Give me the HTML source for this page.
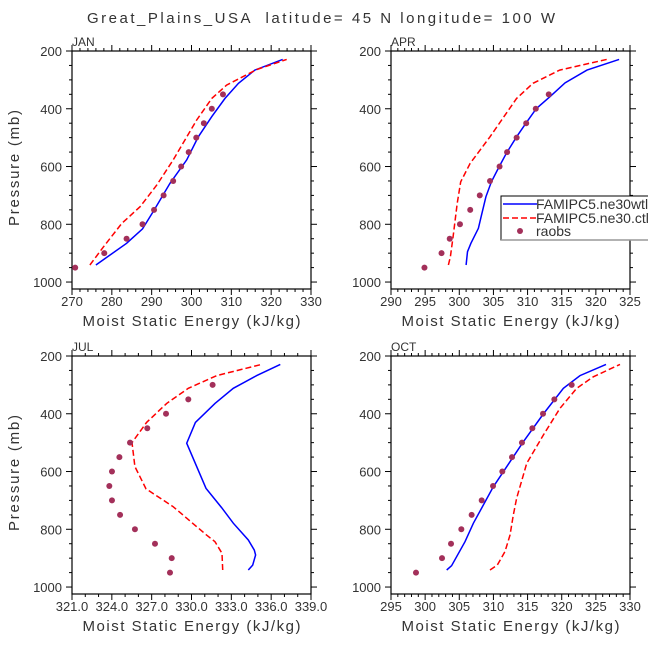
<!DOCTYPE html>
<html><head><meta charset="utf-8">
<style>
html,body{margin:0;padding:0;background:#fff;}
svg{display:block;font-family:"Liberation Sans",sans-serif;}
text{fill:#333;}
</style></head>
<body>
<svg id="chart" width="648" height="649" viewBox="0 0 648 649" xmlns="http://www.w3.org/2000/svg">
<text x="87" y="23" font-size="15" textLength="468" lengthAdjust="spacing" xml:space="preserve" style="white-space:pre">Great_Plains_USA  latitude= 45 N longitude= 100 W</text>
</svg>
<script>
// ---- data ----
const rawPressures = [950,900,850,800,750,700,650,600,550,500,450,400,350,300];
const janRaobs = [270.8,278.1,283.7,287.7,290.6,293.0,295.4,297.4,299.3,301.2,303.1,305.1,307.9];
const janWtlP = [941,866,816,751,658,577,497,427,364,312,266,229];
const janWtl = [276.0,283.7,287.7,290.6,294.6,298.8,301.7,305.1,308.4,311.8,315.9,322.9];
const janCtlP = [941,878,797,739,664,577,439,364,318,264,229];
const janCtl = [274.5,277.9,282.5,287.1,291.3,295.4,301.3,305.1,308.8,316.4,323.9];

const aprRaobs = [294.9,297.4,298.6,300.1,301.6,303.0,304.5,305.9,307.0,308.4,309.8,311.2,313.1];
const aprWtlP = [941,895,866,814,774,705,653,607,554,497,445,399,358,310,266,229];
const aprWtl = [301.0,301.2,301.7,302.8,303.2,303.9,304.7,305.7,306.9,308.4,309.9,311.3,313.3,315.5,318.7,323.4];
const aprCtlP = [941,912,843,728,653,589,497,364,312,266,229];
const aprCtl = [298.4,298.7,299.1,299.7,300.2,301.6,304.5,308.4,310.8,314.7,321.6];

const julRaobs = [328.38,328.51,327.25,325.74,324.62,324.01,323.81,324.01,324.57,325.37,326.67,328.08,329.76,331.59];
const julWtlP = [941,924,889,872,837,779,725,658,502,430,364,312,268,229];
const julWtl = [334.28,334.61,334.83,334.73,334.28,333.15,332.27,331.09,329.64,330.29,331.77,333.15,334.91,336.69];
const julCtlP = [941,883,843,820,722,660,583,500,430,364,312,268,229];
const julCtl = [332.35,332.30,331.77,331.14,328.63,326.57,325.74,325.52,326.62,328.13,329.76,331.90,335.28];

const octRaobs = [298.66,302.47,303.79,305.30,306.81,308.28,309.94,311.30,312.72,314.18,315.70,317.26,318.92,321.46];
const octWtlP = [941,926,843,779,653,497,401,312,268,229];
const octWtl = [303.15,303.88,305.84,307.06,309.98,314.38,317.31,320.24,322.68,326.48];
const octCtlP = [941,924,877,820,751,693,572,474,381,312,272,229];
const octCtl = [309.50,310.57,311.69,312.43,312.91,313.40,314.87,317.31,319.75,322.19,324.63,328.53];

const janTicks = [270,280,290,300,310,320,330];
const aprTicks = [290,295,300,305,310,315,320,325];
const julTicks = [321,324,327,330,333,336,339];
const octTicks = [295,300,305,310,315,320,325,330];
const pTicks = [200,400,600,800,1000];

const NS = "http://www.w3.org/2000/svg";
const svg = document.getElementById('chart');
function mk(tag, attrs, parent){
  const e = document.createElementNS(NS, tag);
  for (const k in attrs) e.setAttribute(k, attrs[k]);
  (parent||svg).appendChild(e);
  return e;
}

function panel(cfg){
  const {name,x0,x1,y0,y1,xmin,xmax,ticks,minorStep,labelFmt,raobs,wtlP,wtl,ctlP,ctl} = cfg;
  const g = mk('g',{});
  
  
  const pTop = 200, pScale = 0.2888;
  const sx = v => x0 + (v - xmin)/(xmax - xmin)*(x1 - x0);
  const sy = p => y0 + (p - pTop)*pScale;
  const fr = mk('rect',{x:x0,y:y0,width:x1-x0,height:y1-y0,fill:'none',stroke:'#000','stroke-width':1.2},g);
  
  
  const tickG = mk('g',{stroke:'#000','stroke-width':1},g);
  for (let v = xmin; v <= xmax + 1e-6; v += minorStep){
    const isMajor = ticks.some(t => Math.abs(t - v) < 1e-6);
    const L = isMajor ? 6 : 3;
    const X = sx(v);
    mk('line',{x1:X,y1:y0,x2:X,y2:y0-L},tickG);
    mk('line',{x1:X,y1:y1,x2:X,y2:y1+L},tickG);
  }
  ticks.forEach(t => {
    const tx = mk('text',{x:sx(t),y:y1+17,'text-anchor':'middle','font-size':13},g);
    
    
    tx.textContent = labelFmt(t);
  });
  for (let p = 200; p <= 1000; p += 50){
    const isMajor = p % 200 === 0;
    const L = isMajor ? 6 : 3;
    const Y = sy(p);
    mk('line',{x1:x0,y1:Y,x2:x0-L,y2:Y},tickG);
    mk('line',{x1:x1,y1:Y,x2:x1+L,y2:Y},tickG);
  }
  pTicks.forEach(p => {
    const tx = mk('text',{x:x0-10,y:sy(p)+5,'text-anchor':'end','font-size':13},g);
    
    
    tx.textContent = p;
  });
  const lb = mk('text',{x:x0,y:y0-5,'font-size':12},g);
  
  
  lb.textContent = name.toUpperCase();
  const xt = mk('text',{x:(x0+x1)/2,y:y1+37,'text-anchor':'middle','font-size':15,textLength:218,lengthAdjust:'spacing'},g);
  
  
  xt.textContent = 'Moist Static Energy (kJ/kg)';
  const pts = (vals, ps) => vals.map((v,i) => sx(v).toFixed(1)+','+sy(ps[i]).toFixed(1)).join(' ');
  const bl = mk('polyline',{points:pts(wtl,wtlP),fill:'none',stroke:'#0000ff','stroke-width':1.5},g);
  
  
  const rl = mk('polyline',{points:pts(ctl,ctlP),fill:'none',stroke:'#ff0000','stroke-width':1.5,'stroke-dasharray':'6,3'},g);
  
  
  raobs.forEach((v,i) => {
    const c = mk('circle',{cx:sx(v),cy:sy(rawPressures[i]),r:3,fill:'#a3305a'},g);
    
    
  });
}

panel({name:'jan',x0:72,x1:311,y0:51,y1:289,xmin:270,xmax:330,ticks:janTicks,minorStep:2,labelFmt:t=>t,raobs:janRaobs,wtlP:janWtlP,wtl:janWtl,ctlP:janCtlP,ctl:janCtl});
panel({name:'apr',x0:391,x1:630,y0:51,y1:289,xmin:290,xmax:325,ticks:aprTicks,minorStep:1,labelFmt:t=>t,raobs:aprRaobs,wtlP:aprWtlP,wtl:aprWtl,ctlP:aprCtlP,ctl:aprCtl});
panel({name:'jul',x0:72,x1:311,y0:356,y1:594,xmin:321,xmax:339,ticks:julTicks,minorStep:1,labelFmt:t=>t.toFixed(1),raobs:julRaobs,wtlP:julWtlP,wtl:julWtl,ctlP:julCtlP,ctl:julCtl});
panel({name:'oct',x0:391,x1:630,y0:356,y1:594,xmin:295,xmax:330,ticks:octTicks,minorStep:1,labelFmt:t=>t,raobs:octRaobs,wtlP:octWtlP,wtl:octWtl,ctlP:octCtlP,ctl:octCtl});

[168, 473].forEach(cy => {
  const t = mk('text',{x:19,y:cy,'text-anchor':'middle','font-size':15,textLength:116,lengthAdjust:'spacing',transform:'rotate(-90 19 '+cy+')'});
  
  
  t.textContent = 'Pressure (mb)';
});

const lg = mk('g',{});


mk('rect',{x:501,y:196,width:160,height:44,fill:'#fff',stroke:'#000','stroke-width':1},lg);
mk('line',{x1:501,y1:240,x2:648,y2:240,stroke:'#999','stroke-width':1.5},lg);
const e1 = mk('line',{x1:503,y1:204,x2:537,y2:204,stroke:'#0000ff','stroke-width':1.5},lg);


const e2 = mk('line',{x1:503,y1:218,x2:537,y2:218,stroke:'#ff0000','stroke-width':1.5,'stroke-dasharray':'6,3'},lg);


const e3 = mk('circle',{cx:520,cy:231,r:3,fill:'#a3305a'},lg);


[['FAMIPC5.ne30wtl',209],['FAMIPC5.ne30.ctl',223],['raobs',236]].forEach(([s,y]) => {
  const t = mk('text',{x:536,y:y,'font-size':14},lg);
  
  
  t.textContent = s;
});
</script>
</body></html>
